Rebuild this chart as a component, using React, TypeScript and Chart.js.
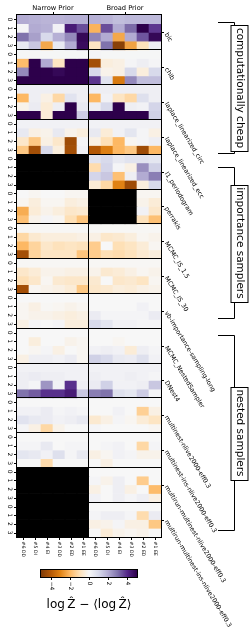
import React, { useEffect, useRef } from "react";
import { Chart, registerables } from "chart.js";
Chart.register(...registerables);

const priors = ["Narrow Prior", "Broad Prior"];
const columnLabels = ["#6 DD", "#5 DI", "#4 EI", "#3 DD", "#2 ED", "#1 EE"];
const rowLabels = ["0", "1", "2", "3"];
const N = null;

const bic = [
  [2.0, 1.9, 1.8, 1.8, 1.9, 1.9, 1.9, 1.8, 1.6, 1.7, 1.7, 1.7],
  [0.1, 2.0, 1.9, 0.2, 4.3, 3.5, -2.1, 3.5, 2.0, 3.1, 5.0, 3.8],
  [3.0, 2.2, 1.0, 1.9, 2.6, 4.8, 2.7, 2.0, -2.3, 2.0, 3.4, 4.8],
  [0.5, 1.4, -2.3, 0.5, 2.0, 4.7, -0.8, 3.0, -4.8, -2.4, -0.9, 0.3],
];
const chib = [
  [0.05, 0.05, 0.05, 0.05, 0.05, 0.05, 0.1, 0.05, 0.05, 0.05, 0.05, 0.05],
  [-1.9, 5.0, 2.0, -0.8, 5.0, 5.0, -4.3, -0.4, -0.3, 0.1, 0.3, 0.1],
  [2.6, 5.0, 5.0, 4.8, 5.0, 5.0, 1.0, -0.2, -0.3, 1.0, -0.4, 1.0],
  [5.0, 5.0, 5.0, 5.0, 5.0, 5.0, 3.8, 0.7, -3.2, 2.6, 1.6, 1.6],
];
const laplaceCirc = [
  [0.3, 0.3, 0.3, 0.3, 0.3, 0.3, 0.3, 0.3, 0.3, 0.3, 0.3, 0.3],
  [-2.0, 0.3, -0.3, -1.2, 0.7, 0.3, -2.0, 0.2, -0.8, -1.2, 0.8, 0.3],
  [-0.2, 0.4, -0.5, 0.3, 5.0, 0.5, 0.3, 1.0, 5.0, 0.3, 0.2, 1.1],
  [5.0, 5.0, -0.5, 5.0, 5.0, 1.3, 5.0, 5.0, 5.0, 5.0, 5.0, 1.2],
];
const laplaceEcc = [
  [0.2, 0.2, 0.2, 0.2, 0.2, 0.2, 0.2, 0.2, 0.2, 0.2, 0.2, 0.2],
  [0.5, -0.3, -0.2, 0.5, -0.2, -0.4, 0.5, -0.5, 0.2, 0.6, 0.1, -0.3],
  [-0.7, -1.6, -0.3, -0.7, -4.4, 0.1, -0.3, -1.0, -2.0, -0.1, 0.1, 0.3],
  [-1.6, -4.3, 1.0, -0.4, -4.3, 0.2, -4.0, -3.1, -2.0, -1.6, -4.4, -2.0],
];
const l1Periodogram = [
  [N, N, N, N, N, N, 0.7, 1.0, 0.5, 0.7, 0.7, 0.6],
  [N, N, N, N, N, N, -1.1, 1.1, 0.1, -0.3, 2.5, 1.2],
  [N, N, N, N, N, N, 1.1, 1.4, -1.8, 0.3, 2.0, 2.8],
  [N, N, N, N, N, N, -0.5, -1.2, -3.0, -4.4, -0.4, 1.0],
];
const perrakis = [
  [0.0, -0.1, 0.0, 0.0, -0.1, -0.1, N, N, N, N, -0.1, -0.1],
  [-0.1, -0.4, -0.1, -0.1, -0.4, -0.3, N, N, N, N, -0.2, -0.5],
  [-2.2, -0.5, -0.2, -0.4, -0.7, -0.6, N, N, N, N, 0.2, -0.7],
  [-1.8, -0.2, 0.1, -0.1, -1.0, -1.7, N, N, N, N, -0.9, -1.8],
];
const mcmcIS15 = [
  [-0.05, -0.05, -0.05, -0.05, -0.05, -0.05, -0.05, -0.05, -0.05, -0.05, -0.05, -0.05],
  [-1.2, -0.6, -0.4, -0.4, -0.4, -0.3, -0.3, -0.7, -0.6, -0.4, -0.1, -0.2],
  [-2.0, -1.3, -0.7, -0.9, -0.8, -0.9, -1.5, 0.0, -1.0, -0.8, -0.5, -0.1],
  [-4.3, -1.3, -0.8, -0.8, -0.8, -1.7, -1.5, -1.0, -1.1, -0.9, -0.6, -0.4],
];
const mcmcIS30 = [
  [-0.05, -0.05, -0.05, -0.05, -0.05, -0.05, -0.05, -0.05, -0.05, -0.05, -0.05, -0.05],
  [-0.7, -0.5, -0.2, -0.2, -0.3, -0.3, -0.2, -0.6, -0.5, -0.3, -0.1, -0.2],
  [-1.0, -0.7, -0.1, -0.6, -0.7, -0.7, -0.6, 0.0, -0.7, -0.6, -0.8, -0.1],
  [-4.3, -0.1, -0.2, -0.3, -0.5, -1.6, -0.7, -0.6, -0.4, -0.5, -0.3, -0.2],
];
const vbImportance = [
  [0.0, 0.0, 0.0, 0.0, 0.0, 0.0, 0.0, 0.0, 0.0, 0.0, 0.0, 0.0],
  [-0.1, -0.3, -0.05, -0.1, -0.2, -0.1, 0.0, 0.0, 0.0, 0.0, 0.2, 0.0],
  [-0.1, -0.2, -0.2, -0.3, -0.4, -0.3, 0.4, 0.1, 0.1, 0.1, 0.1, 0.4],
  [-0.3, 0.1, 0.0, 0.1, -0.4, -0.4, 1.0, 0.6, 0.2, 0.2, 0.1, 0.1],
];
const mcmcNested = [
  [0.0, 0.0, 0.0, 0.0, 0.0, 0.0, 0.0, 0.0, 0.0, 0.0, 0.0, 0.0],
  [0.0, -0.4, 0.0, 0.0, -0.2, -0.1, 0.0, 0.0, -0.1, 0.0, 0.0, 0.0],
  [0.0, -0.1, 0.1, -0.3, 0.0, -0.1, 0.2, 0.3, 0.2, -0.5, 0.3, 0.1],
  [-0.3, 0.3, 0.3, 0.2, 0.4, -0.1, 1.2, 1.0, 0.5, 0.4, 0.8, 0.2],
];
const dnest4 = [
  [0.2, 0.2, 0.2, 0.2, 0.2, 0.2, 0.2, 0.2, 0.2, 0.2, 0.2, 0.2],
  [0.3, 0.4, 0.3, 0.3, 0.2, 0.2, 0.3, 0.2, 0.2, 0.3, 0.2, 0.1],
  [0.3, 0.1, 2.4, 0.2, 3.9, 0.3, 0.4, 1.2, 0.2, 0.2, 0.3, 1.4],
  [3.0, 3.3, 3.9, 3.9, 4.3, 1.4, 2.8, 3.0, 0.8, 0.6, 1.3, 0.1],
];
const multinest = [
  [0.0, 0.0, 0.0, 0.0, 0.0, 0.0, 0.0, 0.0, 0.0, 0.0, 0.0, 0.0],
  [0.2, 0.2, 0.4, 0.1, 0.2, 0.1, 0.0, 0.0, 0.2, 0.0, -1.4, -0.3],
  [0.7, 0.5, 0.4, 0.2, 0.3, 0.5, -0.6, -0.3, 0.1, -0.1, -0.5, -0.8],
  [0.1, -0.3, -1.2, -0.2, 0.0, 0.0, 0.1, 0.0, 0.0, 0.0, 0.0, -0.1],
];
const multinestIns = [
  [0.0, 0.0, 0.0, 0.0, 0.0, 0.0, 0.0, 0.0, 0.0, 0.0, 0.0, 0.0],
  [0.1, 0.1, 0.5, 0.0, 0.1, 0.1, 0.0, 0.1, 0.2, 0.0, -1.2, 0.1],
  [0.6, 0.5, 0.2, 0.8, 0.1, 0.5, -0.3, -0.1, 0.2, 0.1, -0.2, -0.2],
  [0.0, 0.0, -1.1, 0.0, 0.0, 0.0, 0.0, -0.3, 0.0, 0.0, 0.0, 0.0],
];
const multirunMultinest = [
  [N, N, N, N, N, N, 0.0, 0.0, 0.0, 0.0, 0.0, 0.0],
  [N, N, N, N, N, N, 0.1, -0.2, 0.3, 0.0, -1.5, 0.0],
  [N, N, N, N, N, N, -0.3, 0.0, 0.3, -0.3, 0.0, -1.9],
  [N, N, N, N, N, N, 0.2, 0.0, 0.3, 0.1, 0.3, -0.3],
];
const multirunMultinestIns = [
  [N, N, N, N, N, N, 0.0, 0.0, 0.0, 0.0, 0.0, 0.0],
  [N, N, N, N, N, N, 0.1, 0.3, 0.3, 0.1, -1.1, 0.4],
  [N, N, N, N, N, N, -0.3, -0.2, 0.1, -0.3, -0.3, -1.6],
  [N, N, N, N, N, N, 0.0, -0.5, -0.2, -0.1, -0.2, 0.0],
];

const methods = [
  { name: "bic", values: bic },
  { name: "chib", values: chib },
  { name: "laplace_linearized_circ", values: laplaceCirc },
  { name: "laplace_linearized_ecc", values: laplaceEcc },
  { name: "l1_periodogram", values: l1Periodogram },
  { name: "perrakis", values: perrakis },
  { name: "MCMC_IS_1.5", values: mcmcIS15 },
  { name: "MCMC_IS_30", values: mcmcIS30 },
  { name: "vb-importance-sampling-long", values: vbImportance },
  { name: "MCMC_NestedSampler", values: mcmcNested },
  { name: "DNest4", values: dnest4 },
  { name: "multinest-nlive2000-eff0.3", values: multinest },
  { name: "multinest-ins-nlive2000-eff0.3", values: multinestIns },
  { name: "multirun-multinest-nlive2000-eff0.3", values: multirunMultinest },
  { name: "multirun-multinest-ins-nlive2000-eff0.3", values: multirunMultinestIns },
];

const groups = [
  { label: "computationally cheap", from: 0.8, to: 15.9 },
  { label: "importance samplers", from: 17.5, to: 34.8 },
  { label: "nested samplers", from: 36.8, to: 59.2 },
];

const colorbarTicks = [-4, -2, 0, 2, 4];
const vmin = -5;
const vmax = 5;
const colorbarLabel = "log\u2009\u1E90 \u2212 \u27E8log\u2009\u1E90\u27E9";

const PuOr = [
  "#7f3b08", "#b35806", "#e08214", "#fdb863", "#fee0b6", "#f7f7f7",
  "#d8daeb", "#b2abd2", "#8073ac", "#542788", "#2d004b",
];

function hex(h: string) {
  return [1, 3, 5].map((i) => parseInt(h.slice(i, i + 2), 16));
}
function cmap(v: number) {
  let t = (v - vmin) / (vmax - vmin);
  t = Math.max(0, Math.min(1, t)) * (PuOr.length - 1);
  const i = Math.min(PuOr.length - 2, Math.floor(t));
  const f = t - i;
  const a = hex(PuOr[i]);
  const b = hex(PuOr[i + 1]);
  const c = a.map((x, k) => Math.round(x + (b[k] - x) * f));
  return `rgb(${c[0]},${c[1]},${c[2]})`;
}

const FONT = "'DejaVu Sans'";

function rotText(ctx: CanvasRenderingContext2D, text: string, x: number, y: number, deg: number, align: CanvasTextAlign, base: CanvasTextBaseline) {
  ctx.save();
  ctx.translate(x, y);
  ctx.rotate((deg * Math.PI) / 180);
  ctx.textAlign = align;
  ctx.textBaseline = base;
  ctx.fillText(text, 0, 0);
  ctx.restore();
}

const deco = {
  id: "deco",
  beforeDraw(chart: any) {
    const { ctx, width, height } = chart;
    ctx.save();
    ctx.fillStyle = "#fff";
    ctx.fillRect(0, 0, width, height);
    ctx.restore();
  },
  afterDatasetsDraw(chart: any) {
    const { ctx, chartArea: ca, scales } = chart;
    const xs = scales.x;
    const ys = scales.y;
    const cb = scales.cb;
    ctx.save();
    ctx.strokeStyle = "#000";
    ctx.fillStyle = "#000";
    ctx.lineWidth = 1;

    // panel separators
    ctx.beginPath();
    for (let k = 1; k < methods.length; k++) {
      const y = Math.floor(ys.getPixelForValue(k * 4)) + 0.5;
      ctx.moveTo(ca.left, y);
      ctx.lineTo(ca.right, y);
    }
    const xm = Math.floor(xs.getPixelForValue(5.5)) - 0.5;
    ctx.moveTo(xm, ca.top);
    ctx.lineTo(xm, ca.bottom);
    ctx.stroke();
    ctx.strokeRect(ca.left - 0.5, ca.top - 0.5, ca.right - ca.left + 1, ca.bottom - ca.top + 1);

    // titles
    ctx.font = `6.7px ${FONT}`;
    ctx.textAlign = "center";
    ctx.textBaseline = "alphabetic";
    priors.forEach((p, j) => {
      const x = xs.getPixelForValue(2.5 + 6 * j);
      ctx.fillText(p, x, ca.top - 5);
      ctx.beginPath();
      ctx.moveTo(Math.round(x) + 0.5, ca.top - 3);
      ctx.lineTo(Math.round(x) + 0.5, ca.top);
      ctx.stroke();
    });

    // left row ticks and labels
    ctx.font = `6px ${FONT}`;
    methods.forEach((m, p) => {
      rowLabels.forEach((lab, r) => {
        const y = ys.getPixelForValue(p * 4 + r + 0.5);
        ctx.beginPath();
        ctx.moveTo(ca.left - 3, Math.round(y) + 0.5);
        ctx.lineTo(ca.left, Math.round(y) + 0.5);
        ctx.stroke();
        rotText(ctx, lab, ca.left - 7.5, y, 90, "center", "middle");
      });
    });

    // right method ticks and labels
    ctx.font = `6.3px ${FONT}`;
    methods.forEach((m, p) => {
      const y = ys.getPixelForValue(p * 4 + 2);
      ctx.beginPath();
      ctx.moveTo(ca.right, Math.round(y) + 0.5);
      ctx.lineTo(ca.right + 3, Math.round(y) + 0.5);
      ctx.stroke();
      rotText(ctx, m.name, ca.right + 5, y + 1, 59, "left", "middle");
    });

    // bottom column ticks and labels
    ctx.font = `4.7px ${FONT}`;
    const allCols = [...columnLabels, ...columnLabels];
    allCols.forEach((lab, i) => {
      const x = xs.getPixelForValue(i);
      ctx.beginPath();
      ctx.moveTo(Math.round(x) + 0.5, ca.bottom);
      ctx.lineTo(Math.round(x) + 0.5, ca.bottom + 3);
      ctx.stroke();
      rotText(ctx, lab, x, ca.bottom + 4.5, 90, "left", "middle");
    });

    // group brackets
    ctx.font = `10.5px ${FONT}`;
    const bx0 = ca.right + 57;
    const bx1 = ca.right + 73;
    const cx = ca.right + 78.5;
    groups.forEach((g) => {
      const y1 = Math.round(ys.getPixelForValue(g.from)) + 0.5;
      const y2 = Math.round(ys.getPixelForValue(g.to)) + 0.5;
      ctx.beginPath();
      ctx.moveTo(bx0, y1);
      ctx.lineTo(bx1 + 0.5, y1);
      ctx.lineTo(bx1 + 0.5, y2);
      ctx.lineTo(bx0, y2);
      ctx.stroke();
      const tw = ctx.measureText(g.label).width;
      const h = Math.round(tw + 6);
      const cy = (y1 + y2) / 2;
      const top = Math.round(cy - h / 2) + 0.5;
      ctx.fillStyle = "#fff";
      ctx.fillRect(cx - 8.5, top, 17, h);
      ctx.strokeRect(cx - 8.5, top, 17, h);
      ctx.fillStyle = "#000";
      rotText(ctx, g.label, cx, cy, 90, "center", "middle");
    });

    // colorbar
    const cbTop = ca.bottom + 33;
    const cbH = 7;
    const xl = cb.getPixelForValue(vmin);
    const xr = cb.getPixelForValue(vmax);
    const grad = ctx.createLinearGradient(xl, 0, xr, 0);
    PuOr.forEach((c, i) => grad.addColorStop(i / (PuOr.length - 1), c));
    ctx.fillStyle = grad;
    ctx.fillRect(xl, cbTop, xr - xl, cbH);
    ctx.strokeRect(xl - 0.5, cbTop - 0.5, xr - xl + 1, cbH + 1);
    ctx.fillStyle = "#000";
    ctx.font = `6px ${FONT}`;
    colorbarTicks.forEach((v) => {
      const x = Math.round(cb.getPixelForValue(v)) + 0.5;
      ctx.beginPath();
      ctx.moveTo(x, cbTop + cbH);
      ctx.lineTo(x, cbTop + cbH + 3);
      ctx.stroke();
      const lab = v < 0 ? "\u2212" + Math.abs(v) : String(v);
      rotText(ctx, lab, x, cbTop + cbH + 4.5, 90, "left", "middle");
    });
    ctx.font = `12px ${FONT}`;
    ctx.textAlign = "center";
    ctx.textBaseline = "middle";
    ctx.fillText(colorbarLabel, (xl + xr) / 2, cbTop + 35);

    ctx.restore();
  },
};

export default function App() {
  const ref = useRef<HTMLCanvasElement | null>(null);
  useEffect(() => {
    if (!ref.current) return;
    const datasets: any[] = [];
    methods.forEach((m, p) => {
      m.values.forEach((row, r) => {
        datasets.push({
          label: `${m.name} ${rowLabels[r]}`,
          data: row.map(() => [p * 4 + r, p * 4 + r + 1]),
          backgroundColor: row.map((v) => (v === null ? "#000" : cmap(v))),
          borderWidth: 0,
          grouped: false,
          categoryPercentage: 1,
          barPercentage: 1,
        });
      });
    });
    const chart = new Chart(ref.current, {
      type: "bar",
      data: { labels: [...columnLabels, ...columnLabels], datasets },
      options: {
        responsive: false,
        animation: false,
        events: [],
        layout: { padding: { left: 17, right: 88, top: 15, bottom: 106 } },
        plugins: { legend: { display: false }, tooltip: { enabled: false } },
        scales: {
          x: { type: "category", display: false, offset: true },
          y: { type: "linear", display: false, min: 0, max: methods.length * 4, reverse: true },
          cb: { type: "linear", axis: "x", display: false, min: vmin, max: vmax },
        },
      } as any,
      plugins: [deco],
    });
    return () => chart.destroy();
  }, []);
  return (
    <div style={{ position: "absolute", left: 0, top: 0, width: 249, height: 643 }}>
      <canvas ref={ref} width={249} height={643} style={{ display: "block" }} />
    </div>
  );
}
